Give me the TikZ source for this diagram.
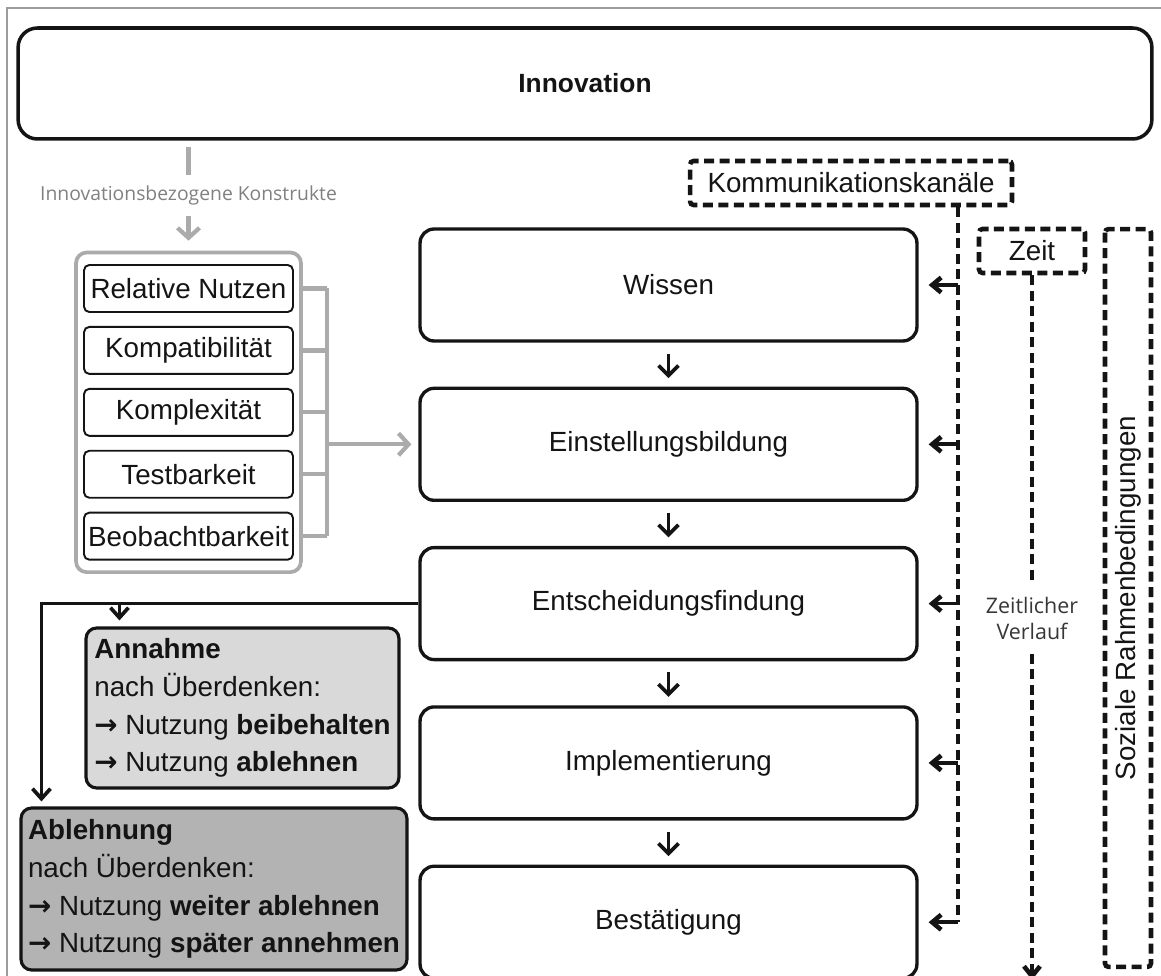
\documentclass[tikz,border=0pt]{standalone}
\usepackage{fontspec}
\setmainfont{Liberation Sans}
\newfontfamily\notefont{Open Sans}
\newfontfamily\arrowfont{DejaVu Sans}
\usepackage{tikz}
\usetikzlibrary{positioning,arrows.meta,fit}
\definecolor{ink}{HTML}{141414}
\definecolor{frameline}{HTML}{9C9C9C}
\definecolor{soft}{HTML}{ABABAB}
\definecolor{notegray}{HTML}{808080}
\definecolor{accept}{HTML}{D9D9D9}
\definecolor{reject}{HTML}{B3B3B3}
\newcommand{\toarrow}{{\arrowfont\bfseries →}}
\tikzset{
  topbox/.style={
    draw=ink, line width=2pt, rounded corners=11pt, inner sep=0pt,
    text=ink, font=\fontsize{15}{18}\selectfont\bfseries},
  stage/.style={
    draw=ink, line width=1.9pt, rounded corners=8pt, inner sep=0pt,
    minimum width=9.94cm, minimum height=2.24cm,
    text=ink, font=\fontsize{15.8}{19}\selectfont},
  crit/.style={
    draw=ink, line width=1.1pt, rounded corners=3pt, inner sep=0pt,
    minimum width=4.18cm, minimum height=0.94cm,
    text=ink, font=\fontsize{15.8}{19}\selectfont},
  critframe/.style={
    draw=soft, line width=2.1pt, rounded corners=6pt,
    inner xsep=0.14cm, inner ysep=0.23cm},
  choice/.style={
    draw=ink, line width=1.8pt, rounded corners=6pt, align=left, inner sep=0pt,
    text=ink, font=\fontsize{15.8}{21.5}\selectfont},
  dashbox/.style={
    draw=ink, line width=2.6pt, dash pattern=on 0.2cm off 0.11cm,
    rounded corners=2pt, inner sep=0pt,
    text=ink, font=\fontsize{15.8}{19}\selectfont},
  dashline/.style={draw=ink, line width=2.6pt, dash pattern=on 0.2cm off 0.11cm},
  note/.style={font=\notefont\fontsize{11}{14}\selectfont, inner xsep=0pt, align=center},
  softline/.style={draw=soft, line width=2.4pt},
  softarrow/.style={softline, -{Straight Barb[length=0.2cm, width=0.44cm]}},
  seq/.style={draw=ink, line width=2.1pt, -{Straight Barb[length=0.2cm, width=0.4cm]}},
  flow/.style={draw=ink, line width=2.1pt, -{Straight Barb[length=0.2cm, width=0.36cm]}},
  kanalarrow/.style={draw=ink, line width=2.1pt, -{Straight Barb[length=0.18cm, width=0.3cm, line width=2.6pt]}},
  timearrow/.style={-{Straight Barb[length=0.2cm, width=0.32cm]}},
}

\begin{document}
\begin{tikzpicture}[x=0.02cm, y=-0.02cm]

  \useasboundingbox (0,0) rectangle (1161,976);
  \draw[frameline, line width=1pt] (7,976) |- (1161,8);

  \node[topbox, minimum width=22.68cm, minimum height=2.22cm] (innov) at (585,83.5) {Innovation};

  % Phasen
  \node[stage] (wissen) at (668.5,285) {Wissen};
  \node[stage, below=0.88cm of wissen] (einst) {Einstellungsbildung};
  \node[stage, below=0.88cm of einst] (ent) {Entscheidungsfindung};
  \node[stage, below=0.88cm of ent] (impl) {Implementierung};
  \node[stage, below=0.88cm of impl] (best) {Bestätigung};

  \foreach \a/\b in {wissen/einst, einst/ent, ent/impl, impl/best}
    \draw[seq] ([yshift=-0.22cm]\a.south) -- ([yshift=0.17cm]\b.north);

  % Innovationsbezogene Konstrukte
  \coordinate (ktop) at (188.5,147);
  \node[note, text=notegray, inner ysep=0.2cm] (konstr) at (188.5,195.5) {Innovationsbezogene Konstrukte};

  \node[crit] (c1) at (188.5,288.5) {Relative Nutzen};
  \node[crit, below=0.26cm of c1] (c2) {Kompatibilität};
  \node[crit, below=0.26cm of c2] (c3) {Komplexität};
  \node[crit, below=0.26cm of c3] (c4) {Testbarkeit};
  \node[crit, below=0.26cm of c4] (c5) {Beobachtbarkeit};
  \node[critframe, fit=(c1)(c5)] (crits) {};

  \draw[softline] (ktop) -- (konstr);
  \draw[softarrow, shorten >=0.2cm] (konstr) -- (konstr |- crits.north);

  \coordinate (bx) at (327,0);
  \foreach \c in {c1,c2,c3,c4,c5}
    \draw[softline] (\c.east -| crits.east) -- (\c.east -| bx);
  \draw[softline] (c1.east -| bx) -- (c5.east -| bx);
  \draw[softarrow, shorten >=0.14cm] (einst.west -| bx) -- (einst.west);

  % Annahme / Ablehnung
  \node[choice, fill=accept, minimum width=6.26cm, minimum height=3.2cm] (annahme) at (242.5,708)
    {\textbf{Annahme}\\nach Überdenken:\\\toarrow{} Nutzung \textbf{beibehalten}\\\toarrow{} Nutzung \textbf{ablehnen}};
  \node[choice, fill=reject, minimum width=7.72cm, minimum height=3.24cm] (ableh) at (214,889)
    {\textbf{Ablehnung}\\nach Überdenken:\\\toarrow{} Nutzung \textbf{weiter ablehnen}\\\toarrow{} Nutzung \textbf{später annehmen}};

  \coordinate (annin) at ([xshift=0.7cm, yshift=0.12cm]annahme.north west);
  \draw[flow] (ent.west) -| ([xshift=0.44cm, yshift=0.1cm]ableh.north west);
  \draw[flow] (ent.west -| annin) -- (annin);

  % Kommunikationskanäle
  \node[dashbox, minimum width=6.44cm, minimum height=0.88cm] (kanal) at (851,183) {Kommunikationskanäle};
  \coordinate (kdrop) at ([xshift=2.14cm]kanal.south);
  \draw[dashline] (kdrop) -- (best.east -| kdrop);
  \foreach \s in {wissen,einst,ent,impl,best}
    \draw[kanalarrow] (\s.east -| kdrop) -- ([xshift=0.2cm]\s.east);

  % Zeit
  \node[dashbox, minimum width=2.12cm, minimum height=0.88cm] (zeit) at (1032,251) {Zeit};
  \node[note, font=\notefont\fontsize{12.2}{14.5}\selectfont, text=ink!85, inner ysep=0.28cm] (verlauf) at (1032,618.5) {Zeitlicher\\Verlauf};
  \draw[dashline] (zeit.south) -- (verlauf.north);
  \draw[dashline, timearrow] (verlauf.south) -- (verlauf.south |- best.south);

  % Soziale Rahmenbedingungen
  \node[dashbox, rotate=90, minimum width=14.76cm, minimum height=0.92cm] (sozial) at (1128,598) {Soziale Rahmenbedingungen};

\end{tikzpicture}
\end{document}
